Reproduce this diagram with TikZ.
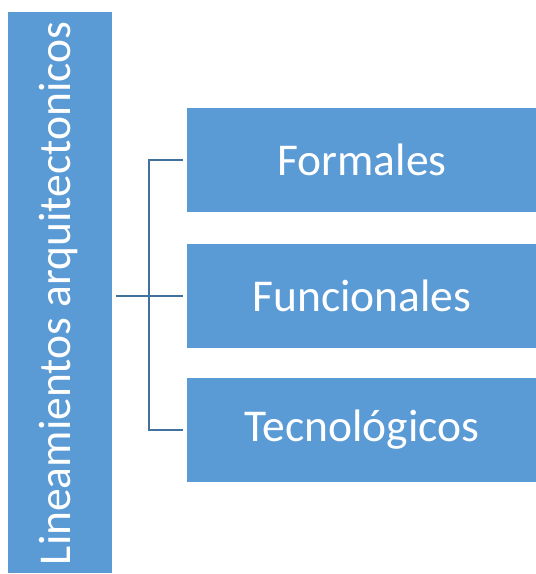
\documentclass[tikz,border=0pt]{standalone}
\usepackage{fontspec}
\setmainfont{Carlito}
\usetikzlibrary{calc}
\definecolor{boxblue}{HTML}{5B9BD5}
\definecolor{lineblue}{HTML}{41719C}
\begin{document}
\begin{tikzpicture}[x=1pt,y=-1pt,
  bluebox/.style={fill=boxblue,draw=white,line width=0.8pt,text=white,inner sep=0pt,anchor=north west,font=\fontsize{45.5}{52}\selectfont},
  conn/.style={draw=lineblue,line width=2.8pt}]
\useasboundingbox (0,0) rectangle (536,574);
\node[bluebox,minimum width=105,minimum height=562] (main) at (7,11) {};
\node[text=white,rotate=90,font=\fontsize{45.5}{52}\selectfont,inner sep=0pt] (mainlbl) at ($(main.center)+(-1,1)$) {Lineamientos arquitectonicos};
\node[bluebox,minimum width=351,minimum height=105] (f1) at (186,107) {Formales};
\node[bluebox,minimum width=351,minimum height=105] (f2) at (186,243) {Funcionales};
\node[bluebox,minimum width=351,minimum height=105] (f3) at (186,377) {Tecnológicos};
\coordinate (s) at ($(main.east |- f2.west)+(3,0)$);
\coordinate (j) at (149,0);
\draw[conn] (s) -- ($(f2.west)+(-3,0)$);
\draw[conn] ($(f1.west)+(-3,0)$) -- (j |- f1.west) -- (j |- f3.west) -- ($(f3.west)+(-3,0)$);
\end{tikzpicture}
\end{document}
